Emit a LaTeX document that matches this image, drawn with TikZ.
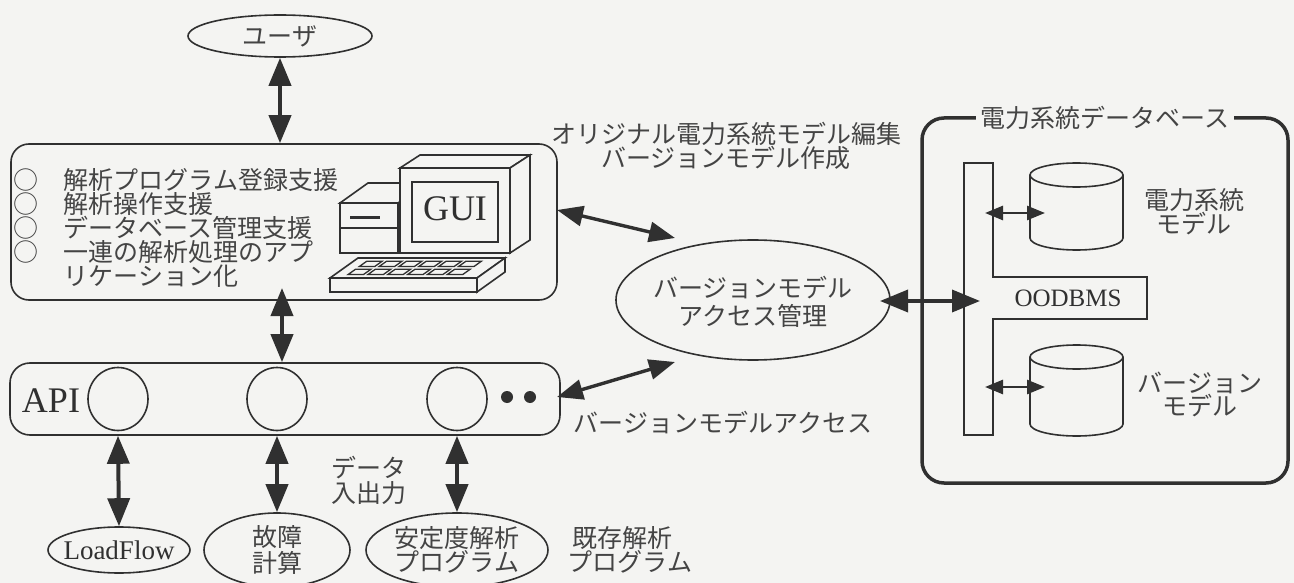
\documentclass[tikz,border=0pt]{standalone}
\usepackage{fontspec}
\setmainfont{Liberation Serif}
\newfontfamily\jp{Noto Sans CJK JP}
\usetikzlibrary{arrows.meta,shapes.geometric}
\definecolor{paper}{RGB}{244,244,242}
\definecolor{ink}{RGB}{48,48,48}
\definecolor{inktext}{RGB}{68,68,68}

\begin{document}
\begin{tikzpicture}[x=1pt,y=-1pt,color=ink,line width=1.6pt,
  jt/.style={font=\jp\fontsize{25}{25}\selectfont,text=inktext,inner sep=0pt,align=center},
  lt/.style={font=\fontsize{27}{27}\selectfont,text=ink,inner sep=0pt},
  box/.style={draw,rounded corners=18pt,inner sep=0pt},
  oval/.style={draw,ellipse,inner sep=0pt},
  bigarrow/.style={line width=4pt,{Triangle[length=28pt,width=22pt]}-{Triangle[length=28pt,width=22pt]}},
  midarrow/.style={line width=3.4pt,{Triangle[length=26pt,width=20pt]}-{Triangle[length=26pt,width=20pt]}},
  smallarrow/.style={line width=2.6pt,{Triangle[length=18pt,width=14pt]}-{Triangle[length=18pt,width=14pt]}}]

% canvas
\fill[paper] (0,0) rectangle (1294,583);
\useasboundingbox (0,0) rectangle (1294,583);

% ---------- user ----------
\node[oval,minimum width=184pt,minimum height=42pt] (user) at (280,36) {};
\node[jt] (userT) at (user) {ユーザ};

% ---------- GUI layer ----------
\node[box,minimum width=546pt,minimum height=156pt] (gui) at (284,222) {};
\foreach \i/\y in {1/180,2/204,3/228,4/252}
  \node[jt] (o\i) at (26,\y) {○};
\node[jt,anchor=west] (l1) at (63,180) {解析プログラム登録支援};
\node[jt,anchor=west] (l2) at (63,204) {解析操作支援};
\node[jt,anchor=west] (l3) at (63,228) {データベース管理支援};
\node[jt,anchor=west] (l4) at (63,252) {一連の解析処理のアプ};
\node[jt,anchor=west] (l5) at (63,276) {リケーション化};

% computer: system unit
\filldraw[fill=paper] (340,203) -- (368,183) -- (426,183) -- (398,203) -- cycle;
\filldraw[fill=paper] (340,203) rectangle (398,253);
\draw (340,228) -- (398,228);
\draw[line width=3pt] (350,217) -- (380,217);
% monitor
\filldraw[fill=paper] (400,168) -- (420,155) -- (530,155) -- (510,168) -- cycle;
\filldraw[fill=paper] (510,168) -- (530,155) -- (530,240) -- (510,253) -- cycle;
\filldraw[fill=paper] (400,168) rectangle (510,253);
\draw (412,182) rectangle (498,242);
\node[lt,font=\fontsize{36}{36}\selectfont] (guiT) at (455,209) {GUI};
% keyboard
\filldraw[fill=paper] (330,278) -- (358,258) -- (505,258) -- (477,278) -- cycle;
\filldraw[fill=paper] (330,278) rectangle (477,292);
\filldraw[fill=paper] (477,278) -- (505,258) -- (505,272) -- (477,292) -- cycle;
\foreach \c in {0,...,5}{
  \foreach \va/\vb in {0.18/0.44,0.58/0.84}{
    \pgfmathsetmacro{\ua}{0.09+\c*0.135}
    \pgfmathsetmacro{\ub}{\ua+0.105}
    \draw[line width=1.3pt]
      ({330+147*\ua+28*\va},{278-20*\va}) -- ({330+147*\ub+28*\va},{278-20*\va})
      -- ({330+147*\ub+28*\vb},{278-20*\vb}) -- ({330+147*\ua+28*\vb},{278-20*\vb}) -- cycle;
  }
}

% ---------- API layer ----------
\node[box,rounded corners=20pt,minimum width=550pt,minimum height=72pt] (api) at (285,399) {};
\node[lt,font=\fontsize{36}{36}\selectfont] (apiT) at (51,401) {API};
\node[oval,minimum width=60pt,minimum height=63pt] (c1) at (118,399) {};
\node[oval,minimum width=60pt,minimum height=63pt] (c2) at (277,399) {};
\node[oval,minimum width=60pt,minimum height=63pt] (c3) at (457,399) {};
\node[circle,fill=ink,inner sep=0pt,minimum size=12pt] (d1) at (507,397) {};
\node[circle,fill=ink,inner sep=0pt,minimum size=12pt] (d2) at (530,397) {};

% ---------- analysis programs ----------
\node[oval,minimum width=142pt,minimum height=46pt] (lf) at (119,550) {};
\node[lt] (lfT) at (lf) {LoadFlow};
\node[oval,minimum width=146pt,minimum height=74pt] (ko) at (277,550) {};
\node[jt,font=\jp\fontsize{25}{26}\selectfont] (koT) at (ko) {故障\\計算};
\node[oval,minimum width=182pt,minimum height=74pt] (st) at (457,550) {};
\node[jt,font=\jp\fontsize{25}{24}\selectfont] (stT) at (st) {安定度解析\\プログラム};

\node[jt,anchor=west,align=left] (ioT) at (331,480) {データ\\入出力};
\node[jt,anchor=west,align=left,font=\jp\fontsize{25}{24}\selectfont] (exT) at (567,550) {\hspace*{5pt}既存解析\\プログラム};

% ---------- version model access ----------
\node[oval,minimum width=274pt,minimum height=120pt] (vm) at (753,300) {};
\node[jt,font=\jp\fontsize{25}{28}\selectfont] (vmT) at (753,302) {バージョンモデル\\アクセス管理};
\node[jt,font=\jp\fontsize{25}{23}\selectfont] (editT) at (726,146) {オリジナル電力系統モデル編集\\バージョンモデル作成};
\node[jt,anchor=west] (accT) at (573,423) {バージョンモデルアクセス};

% ---------- power system database ----------
\node[draw,rounded corners=22pt,line width=3.5pt,minimum width=366pt,minimum height=365pt,inner sep=0pt] (db) at (1105,300.5) {};
\node[jt,fill=paper,inner xsep=5pt,inner ysep=2pt] (dbT) at (1105,118) {電力系統データベース};

\draw[fill=paper] (964,163) -- (993,163) -- (993,277) -- (1147,277) -- (1147,319)
  -- (993,319) -- (993,435) -- (964,435) -- cycle;
\node[lt,font=\fontsize{25}{25}\selectfont] (oodT) at (1068,298) {OODBMS};

% storage cylinders
\draw[fill=paper] (1030,175) -- (1030,238) arc[start angle=180,end angle=0,x radius=46.5,y radius=12] -- (1123,175);
\draw (1076.5,175) ellipse[x radius=46.5,y radius=12];
\draw[fill=paper] (1030,357) -- (1030,424) arc[start angle=180,end angle=0,x radius=46.5,y radius=12] -- (1123,357);
\draw (1076.5,357) ellipse[x radius=46.5,y radius=12];
\node[jt,font=\jp\fontsize{25}{22}\selectfont] (m1T) at (1194,212) {電力系統\\モデル};
\node[jt,font=\jp\fontsize{25}{23}\selectfont] (m2T) at (1200,394) {バージョン\\モデル};

% ---------- connectors ----------
\coordinate (guiIn) at (282,288);
\coordinate (g1) at (557,210);
\coordinate (v1) at (675,238);
\coordinate (a1) at (557,397);
\coordinate (v2) at (675,362);
\coordinate (v3) at (880,301);
\coordinate (b1) at (980,301);
\coordinate (s1) at (985,213);
\coordinate (t1) at (1045,213);
\coordinate (s2) at (985,387);
\coordinate (t2) at (1045,387);

\draw[bigarrow] (user.south) -- (user.south |- gui.north);
\draw[bigarrow] (guiIn) -- (guiIn |- api.north);
\draw[bigarrow] (api.south -| c1) -- (lf.north);
\draw[bigarrow] (api.south -| c2) -- (ko.north);
\draw[bigarrow] (api.south -| c3) -- (st.north);
\draw[midarrow] (g1) -- (v1);
\draw[midarrow] (a1) -- (v2);
\draw[bigarrow,line width=3.6pt] (v3) -- (b1);
\draw[smallarrow] (s1) -- (t1);
\draw[smallarrow] (s2) -- (t2);
\end{tikzpicture}
\end{document}
